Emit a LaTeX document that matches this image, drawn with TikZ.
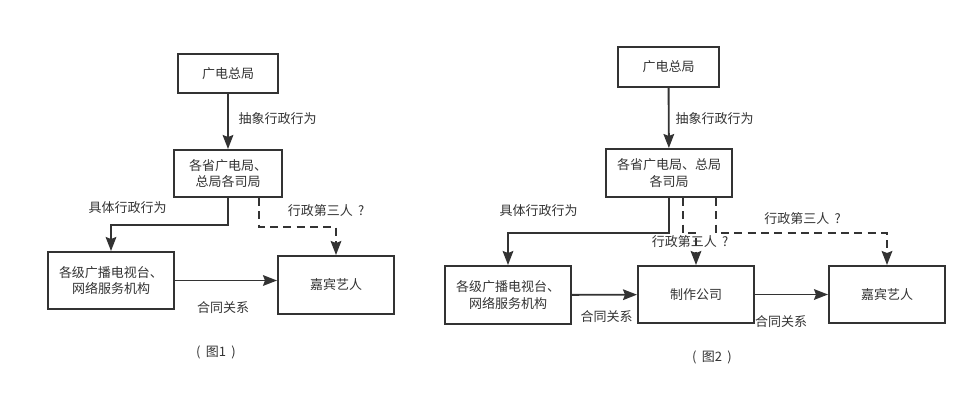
\documentclass[tikz,border=0pt]{standalone}
\usepackage{fontspec}
\setmainfont{Noto Sans CJK SC}
\usepackage{tikz}
\usetikzlibrary{arrows.meta,calc}
\definecolor{linegray}{HTML}{333333}

\begin{document}
\begin{tikzpicture}[x=0.75pt,y=-0.75pt,font=\fontsize{9.75}{12.5}\selectfont,text=linegray]
    \tikzset{box/.style={draw=linegray,line width=1.5pt,fill=white,inner sep=0pt,align=center},
      arr/.style={draw=linegray,line width=1.4pt,-{Stealth[length=10.5pt,width=8pt,inset=1.5pt]}},
      dashline/.style={dash pattern=on 6pt off 4pt}}
    \useasboundingbox (0,0) rectangle (976,408);
    % figure 1
    \node[box,minimum width=75pt,minimum height=29.25pt] (zj1) at (228,73.5) {广电总局};
    \node[box,minimum width=81pt,minimum height=35.25pt] (sj1) at (228,173.5) {各省广电局、\\总局各司局};
    \node[box,minimum width=94.5pt,minimum height=42.75pt] (jg1) at (111,280.5) {各级广播电视台、\\网络服务机构};
    \node[box,minimum width=87pt,minimum height=43.5pt] (jb1) at (336,285) {嘉宾艺人};
    \node (l1a) at (277.5,119) {抽象行政行为};
    \node (l1b) at (127.5,208) {具体行政行为};
    \node (l1c) at (326,211) {行政第三人\hspace{4pt}?};
    \node (l1d) at (223,308) {合同关系};
    \node (t1) at (216,352) {(\hspace{4pt}图1\hspace{4pt})};
    \path (zj1) edge[arr] (sj1)
    (jg1.east) edge[arr] (jb1.west |- jg1.east);
    \draw[arr] (sj1.south) -- ++(0,27) -| (jg1.north);
    \draw[arr,dashline] ($(sj1.south)+(31,0)$) -- ++(0,29) -| (jb1.north);
    % figure 2
    \node[box,minimum width=75.75pt,minimum height=30pt] (zj2) at (668.5,67) {广电总局};
    \node[box,minimum width=94.5pt,minimum height=36pt] (sj2) at (669,173) {各省广电局、总局\\各司局};
    \node[box,minimum width=94.5pt,minimum height=43.5pt] (jg2) at (508,295) {各级广播电视台、\\网络服务机构};
    \node[box,minimum width=87pt,minimum height=42.75pt] (zz2) at (696,294.5) {制作公司};
    \node[box,minimum width=87pt,minimum height=42.75pt] (jb2) at (887,294.5) {嘉宾艺人};
    \node (l2a) at (714.5,119) {抽象行政行为};
    \node (l2b) at (538.5,211) {具体行政行为};
    \node (l2c) at (802.5,219) {行政第三人\hspace{4pt}?};
    \node (l2e) at (606.5,317) {合同关系};
    \node (l2f) at (781,322) {合同关系};
    \node (t2) at (712,357) {(\hspace{4pt}图2\hspace{4pt})};
    \path (zj2) edge[arr] (sj2)
    (jg2) edge[arr] (zz2)
    (zz2) edge[arr] (jb2);
    \draw[arr] (sj2.south) -- ++(0,35) -| (jg2.north);
    \draw[arr,dashline] ($(sj2.south)+(14,0)$) -- ++(0,35) -| (zz2.north);
    \draw[arr,dashline] ($(sj2.south)+(47,0)$) -- ++(0,35) -| (jb2.north);
    \node (l2d) at (690,242) {行政第三人\hspace{4pt}?};
  \end{tikzpicture}
\end{document}
